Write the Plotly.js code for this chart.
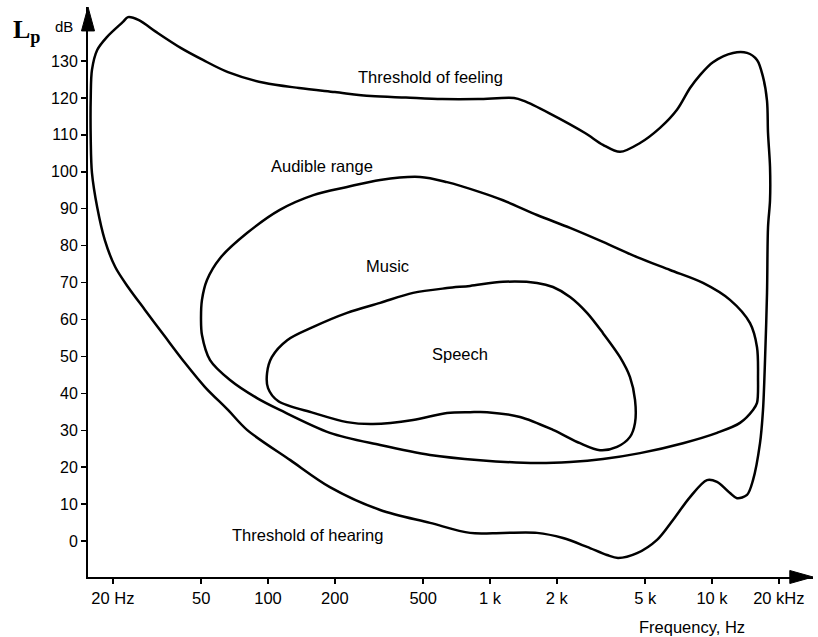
<!DOCTYPE html>
<html>
<head>
<meta charset="utf-8">
<script src="https://cdn.plot.ly/plotly-3.0.1.min.js"></script>
<style>html,body{margin:0;padding:0;background:#fff;}#chart{width:818px;height:637px;}</style>
</head>
<body>
<div id="chart"></div>
<script>
// Outer boundary: threshold of feeling (top) + threshold of hearing (bottom)
const outerFreq = [418,608,883,1283,1423,1844,2679,3228,3852,4740,5832,6955,7962,8830,10100,12433,14379,15950,16975,17696,17880,18255,18255,17880,17696,17333,16975,16455,15303,14379,12958,12052,10532,9494,7962,6673,5653,4595,3773,3365,2735,2132,1628,1144,813,537,320,190,126,80.4,66.0,52.0,42.3,34.4,27.9,23.4,20.5,18.4,17.0,16.1,15.9,15.9,16.1,17.0,18.8,22.2,23.4,26.2,31.3,40.6,50.9,66.0,95.9,138,200,291,418];
const outerLevel = [120.1,119.7,119.7,120.0,119.2,115.9,110.5,107.3,105.4,107.8,111.9,116.8,122.7,126.2,129.7,132.2,132.2,130.3,125.7,119.2,110.5,101.3,92.3,85.0,67.2,49.0,35.5,26.5,16.5,12.5,11.6,13.0,16.0,16.5,11.9,5.7,0.3,-3.3,-4.6,-3.8,-1.6,0.8,2.2,2.2,2.2,4.9,8.4,14.6,21.9,30.1,35.5,41.7,48.2,55.3,62.6,68.8,74.2,81.5,90.4,99.7,108.6,120.3,127.6,133.0,136.5,140.6,141.9,141.1,137.9,133.5,130.3,127.0,124.1,122.7,121.6,120.5,120.1];

// Music region
const musicFreq = [902,640,484,320,227,160,113,80.4,60.8,53.1,50.4,49.9,50.4,54.8,67.4,89.2,113,190,320,537,902,1628,2294,3228,4740,7403,10532,13369,15303,15950,16117,15950,14836,12052,9108,6469,4595,3228,2294,1628,1144,902];
const musicLevel = [94.5,97.2,98.6,97.8,95.9,93.7,89.7,83.4,76.6,70.7,65.3,59.9,55.8,49.0,43.6,38.7,35.5,29.3,26.0,23.3,21.9,21.1,21.4,22.2,23.8,26.5,29.3,32.0,35.5,37.4,44.4,52.5,59.0,65.3,69.9,73.4,76.9,81.0,84.8,88.3,92.3,94.5];

// Speech region
const speechFreq = [813,1144,1628,1922,2294,2735,3228,3852,4272,4500,4500,4272,3734,3130,2544,1922,1365,970,813,640,450,297,227,160,111,100,99,104,122,160,227,320,450,640,813];
const speechLevel = [69.1,70.2,69.9,68.8,66.1,61.8,56.3,49.8,44.4,38.2,32.0,28.2,25.5,24.6,26.5,30.1,33.6,34.9,34.9,34.7,32.8,31.7,32.2,34.7,37.9,41.4,45.5,49.8,54.4,58.0,61.8,64.5,67.2,68.5,69.1];

// Axis ticks
const xTickVals = [20,50,100,200,500,1000,2000,5000,10000,20000];
const xTickText = ['20 Hz','50','100','200','500','1 k','2 k','5 k','10 k','20 kHz'];
const yTickVals = [0,10,20,30,40,50,60,70,80,90,100,110,120,130];

// Region labels
const labelText = ['Threshold of feeling','Audible range','Music','Speech','Threshold of hearing'];
const labelFreq = [537,175,347,733,150];
const labelLevel = [125.7,101.6,74.5,50.6,1.6];

const lineStyle = {color:'#000', width:2.5, shape:'spline', smoothing:0.9};
const traces = [
  {x:outerFreq, y:outerLevel, mode:'lines', line:lineStyle, hoverinfo:'skip'},
  {x:musicFreq, y:musicLevel, mode:'lines', line:lineStyle, hoverinfo:'skip'},
  {x:speechFreq, y:speechLevel, mode:'lines', line:lineStyle, hoverinfo:'skip'}
];

const font = 'Liberation Sans, Arial, Helvetica, sans-serif';
const annotations = labelText.map((t,i)=>({
  text:t, x:Math.log10(labelFreq[i]), y:labelLevel[i], xref:'x', yref:'y',
  showarrow:false, font:{family:font, size:16.5, color:'#000'}
}));
annotations.push(
  {text:'L<sub>p</sub>', xref:'paper', yref:'paper', x:-0.106, y:0.958, xanchor:'left', yanchor:'middle',
   showarrow:false, font:{family:'Liberation Serif, Times New Roman, serif', size:26, color:'#000', weight:'bold'}},
  {text:'dB', xref:'paper', yref:'paper', x:-0.033, y:0.965, xanchor:'center', yanchor:'middle',
   showarrow:false, font:{family:font, size:15, color:'#000'}},
  {text:'Frequency, Hz', xref:'paper', yref:'paper', x:0.833, y:-0.088, xanchor:'center', yanchor:'middle',
   showarrow:false, font:{family:font, size:16.5, color:'#000'}}
);

const layout = {
  width:818, height:637,
  margin:{l:88, r:5, t:7, b:60, pad:0},
  paper_bgcolor:'#fff', plot_bgcolor:'#fff',
  showlegend:false,
  font:{family:font, color:'#000'},
  xaxis:{type:'log', range:[1.189, 4.455], tickvals:xTickVals, ticktext:xTickText,
    ticks:'outside', ticklen:5, tickwidth:1.5, tickcolor:'#000',
    showline:true, linewidth:2, linecolor:'#000', showgrid:false, zeroline:false,
    tickfont:{family:font, size:16.5, color:'#000'}, fixedrange:true},
  yaxis:{range:[-9.75, 144.64], tickvals:yTickVals,
    ticks:'outside', ticklen:5, tickwidth:1.5, tickcolor:'#000',
    showline:true, linewidth:2, linecolor:'#000', showgrid:false, zeroline:false,
    tickfont:{family:font, size:16, color:'#000'}, fixedrange:true},
  annotations:annotations,
  shapes:[
    {type:'path', xref:'paper', yref:'paper', path:'M 0 1 L -0.009 0.958 L 0.009 0.958 Z',
     fillcolor:'#000', line:{color:'#000', width:1}},
    {type:'path', xref:'paper', yref:'paper', path:'M 1 0 L 0.968 0.0114 L 0.968 -0.0114 Z',
     fillcolor:'#000', line:{color:'#000', width:1}}
  ]
};

Plotly.newPlot('chart', traces, layout, {displayModeBar:false, staticPlot:true});
</script>
</body>
</html>
